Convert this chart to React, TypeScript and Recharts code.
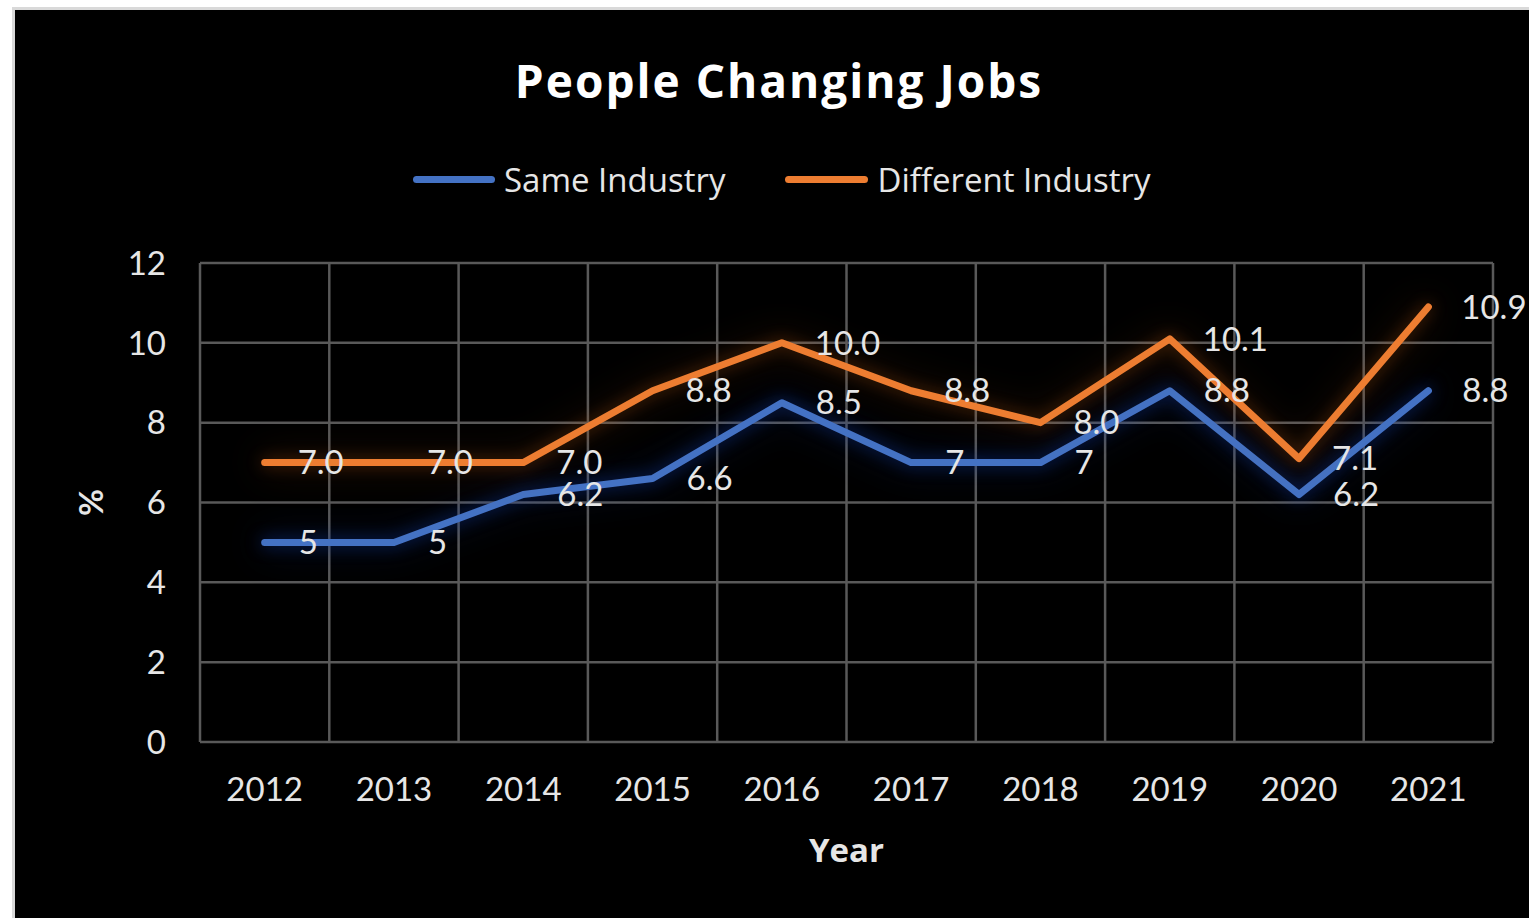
import { LineChart, Line, XAxis, YAxis, CartesianGrid, LabelList, Label } from "recharts";

const years = ["2012", "2013", "2014", "2015", "2016", "2017", "2018", "2019", "2020", "2021"];
const sameIndustry = [5, 5, 6.2, 6.6, 8.5, 7, 7, 8.8, 6.2, 8.8];
const differentIndustry = [7.0, 7.0, 7.0, 8.8, 10.0, 8.8, 8.0, 10.1, 7.1, 10.9];
const yTicks = [0, 2, 4, 6, 8, 10, 12];

const BLUE = "#4472c4";
const ORANGE = "#ed7d31";
const GRID = "#595959";
const TEXT = "#e6e6e6";
const FONT = "Lato, 'Open Sans', sans-serif";
const FONT_WIDE = "'Open Sans', Lato, sans-serif";

const data = years.map((year, i) => ({
  year,
  same: sameIndustry[i],
  different: differentIndustry[i],
}));

// grid lines sit on the category boundaries, like Excel
const boundaryLines = ({ offset }: any) =>
  Array.from({ length: years.length + 1 }, (_, i) => offset.left + (i * offset.width) / years.length);

export default function App() {
  return (
    <div
      style={{
        position: "fixed",
        left: 12,
        top: 7,
        width: 1514,
        height: 908,
        background: "#000",
        borderTop: "3px solid #d9d9d9",
        borderLeft: "3px solid #d9d9d9",
        fontFamily: FONT,
      }}
    >
      <style>{`
        .glow-blue .recharts-line-curve { filter: drop-shadow(0 0 8px rgba(20,60,170,0.6)) drop-shadow(0 0 18px rgba(20,60,170,0.35)); }
        .glow-orange .recharts-line-curve { filter: drop-shadow(0 0 8px rgba(180,85,20,0.45)) drop-shadow(0 0 18px rgba(180,85,20,0.3)); }
      `}</style>
      <div
        style={{
          position: "absolute",
          top: 39,
          left: 0,
          width: 1530,
          textAlign: "center",
          color: "#fff",
          fontWeight: 700,
          fontSize: 46,
          letterSpacing: 2,
          fontFamily: FONT_WIDE,
        }}
      >
        <span style={{ position: "relative", left: -1 }}>People Changing Jobs</span>
      </div>
      <div
        style={{
          position: "absolute",
          top: 147,
          left: 398,
          display: "flex",
          alignItems: "center",
          color: TEXT,
          fontSize: 33,
          fontFamily: FONT_WIDE,
        }}
      >
        <span style={{ width: 82, height: 7, borderRadius: 4, background: BLUE, marginRight: 9 }} />
        <span>Same Industry</span>
        <span style={{ width: 83, height: 7, borderRadius: 4, background: ORANGE, marginLeft: 60, marginRight: 9 }} />
        <span>Different Industry</span>
      </div>
      <LineChart
        width={1514}
        height={908}
        data={data}
        margin={{ top: 253, right: 36, bottom: 0, left: 0 }}
        style={{ position: "absolute", top: 0, left: 0, overflow: "visible" }}
      >
        <CartesianGrid
          stroke={GRID}
          strokeWidth={2.5}
          verticalCoordinatesGenerator={boundaryLines}
        />
        <XAxis
          dataKey="year"
          scale="band"
          height={176}
          axisLine={false}
          tickLine={false}
          tickSize={0}
          tickMargin={36}
          tick={{ fill: TEXT, fontSize: 33, fontFamily: FONT }}
          interval={0}
        >
          <Label
            value="Year"
            position="insideBottom"
            offset={56}
            fill={TEXT}
            fontSize={33}
            fontWeight={700}
            fontFamily={FONT_WIDE}
          />
        </XAxis>
        <YAxis
          domain={[0, 12]}
          ticks={yTicks}
          width={185}
          axisLine={false}
          tickLine={false}
          tickSize={0}
          tickMargin={34}
          tick={{ fill: TEXT, fontSize: 33, fontFamily: FONT }}
        >
          <Label
            content={({ viewBox }: any) => (
              <text
                x={viewBox.x + 75}
                y={viewBox.y + viewBox.height / 2}
                transform={`rotate(-90 ${viewBox.x + 75} ${viewBox.y + viewBox.height / 2})`}
                textAnchor="middle"
                dominantBaseline="central"
                fill={TEXT}
                fontSize={33}
                fontWeight={700}
                fontFamily={FONT}
              >
                %
              </text>
            )}
          />
        </YAxis>
        <Line
          className="glow-blue"
          type="linear"
          dataKey="same"
          stroke={BLUE}
          strokeWidth={7}
          strokeLinecap="round"
          strokeLinejoin="round"
          dot={false}
          isAnimationActive={false}
        >
          <LabelList
            dataKey="same"
            position="right"
            offset={34}
            fill={TEXT}
            fontSize={33}
            fontFamily={FONT}
            formatter={(v: any) => String(v)}
          />
        </Line>
        <Line
          className="glow-orange"
          type="linear"
          dataKey="different"
          stroke={ORANGE}
          strokeWidth={7}
          strokeLinecap="round"
          strokeLinejoin="round"
          dot={false}
          isAnimationActive={false}
        >
          <LabelList
            dataKey="different"
            position="right"
            offset={33}
            fill={TEXT}
            fontSize={33}
            fontFamily={FONT}
            formatter={(v: any) => Number(v).toFixed(1)}
          />
        </Line>
      </LineChart>
    </div>
  );
}
